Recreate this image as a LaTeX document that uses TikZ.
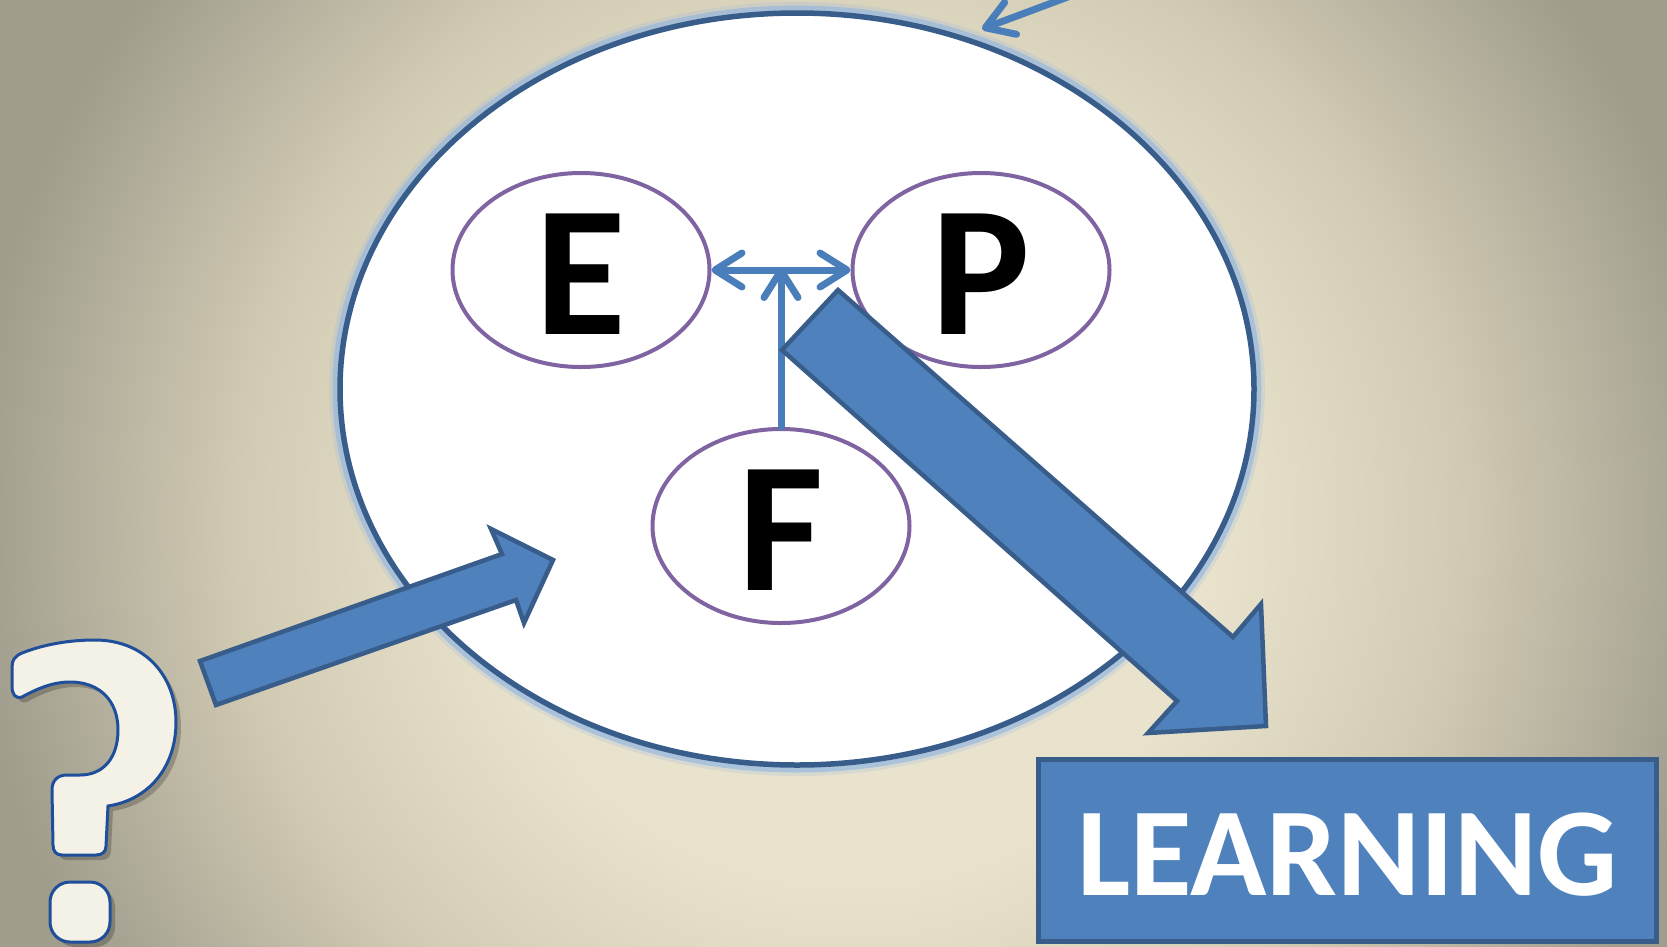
\documentclass[tikz,border=0pt]{standalone}
\usepackage{fontspec}
\setmainfont{Carlito}
\usetikzlibrary{shapes.geometric,arrows.meta}
\definecolor{bgc}{HTML}{E9E3CD}
\definecolor{bgm}{HTML}{D3CCB5}
\definecolor{bge}{HTML}{A09D8D}
\definecolor{accent}{HTML}{4F81BD}
\definecolor{accentdark}{HTML}{385D8A}
\definecolor{glowc}{HTML}{8FB4E3}
\definecolor{purp}{HTML}{8064A2}
\definecolor{qfill}{HTML}{F4F1E6}
\definecolor{qline}{HTML}{1F4E9A}
\definecolor{linkc}{HTML}{4A7EBB}
\pgfdeclareradialshading{bgshade}{\pgfpoint{0bp}{0bp}}{color(0bp)=(bgc); color(9bp)=(bgc); color(15bp)=(bgm); color(22bp)=(bge); color(50bp)=(bge)}
\newcommand{\lowered}[2]{\raisebox{-#1}[\height][0pt]{#2}}
\tikzset{
  barbtip/.tip={Straight Barb[length=27pt,width=34pt,round]},
  qmark/.pic={
    \path[pic actions] (22,697) .. controls (15,699) and (12,694) .. (12,686) -- (12,667)
      .. controls (12,660) and (15,656) .. (22,653)
      .. controls (45,644) and (70,640) .. (95,640)
      .. controls (145,640) and (176,676) .. (176,722)
      .. controls (176,768) and (148,800) .. (108,806)
      -- (106,846) .. controls (106,852) and (102,855) .. (96,855)
      -- (62,855) .. controls (56,855) and (53,851) .. (53,845)
      -- (52,790) .. controls (52,781) and (57,775) .. (67,775)
      -- (80,775) .. controls (104,775) and (118,757) .. (118,730)
      .. controls (118,701) and (100,682) .. (70,682)
      .. controls (55,682) and (40,687) .. (22,697) -- cycle;
    \path[pic actions, rounded corners=20pt] (50,882) rectangle (110,942);
  }
}
\begin{document}
\begin{tikzpicture}[x=1pt,y=-1pt,
  bubble/.style={ellipse, draw=purp, line width=4pt, fill=white,
    minimum width=257pt, minimum height=194pt, inner sep=0pt,
    font=\fontsize{186}{186}\selectfont\bfseries},
  link/.style={draw=linkc, line width=7pt, line cap=round, -barbtip},
  blockarrow/.style={fill=accent, draw=accentdark, line width=4.5pt, line join=miter},
]
\clip (0,0) rectangle (1667,946);
\useasboundingbox (0,0) rectangle (1667,946);
% background
\shade[shading=bgshade] (-150,-480) rectangle (1850,1520);

% big ellipse with glow
\draw[glowc, line width=22pt, draw opacity=0.2] (797,389) ellipse [x radius=457pt, y radius=376pt];
\draw[glowc, line width=15pt, draw opacity=0.6] (797,389) ellipse [x radius=457pt, y radius=376pt];
\node[ellipse, fill=white, draw=accentdark, line width=5.5pt,
  minimum width=914pt, minimum height=752pt, inner sep=0pt] (big) at (797,389) {};

% small ellipses
\node[bubble] (E) at (581,270) {\lowered{4pt}{E}};
\node[bubble] (P) at (981,270) {\lowered{4pt}{P}};
\node[bubble] (F) at (781,526) {\lowered{4pt}{F}};

% connectors
\draw[link, barbtip-barbtip] (E.east) -- (P.west);
\coordinate (junction) at (F.north |- E.east);
\draw[link] (F.north) -- ([yshift=3pt]junction);
\coordinate (topsrc) at (1100,-15);
\coordinate (toptip) at (982,29);
\draw[link] (topsrc) -- (toptip);

% block arrows
\draw[blockarrow] (200,661) -- (502,554) -- (491,529) -- (553,560) -- (524,623) -- (516,600) -- (216,705) -- cycle;
\draw[blockarrow] (838,290) -- (1233,637) -- (1261,604) -- (1266,726) -- (1148,733) -- (1177,701) -- (782,350) -- cycle;

% LEARNING box
\node[draw=accentdark, fill=accent, line width=5pt, minimum width=618pt, minimum height=182pt,
  inner sep=0pt, text=white, font=\fontsize{126}{126}\selectfont\bfseries] (learn) at (1347.5,850) {\lowered{4pt}{LEARNING}};

% question mark
\pic[fill=black, fill opacity=0.22] at (5,5) {qmark};
\pic[fill=qfill, draw=qline, line width=3pt] at (0,0) {qmark};
\end{tikzpicture}
\end{document}
